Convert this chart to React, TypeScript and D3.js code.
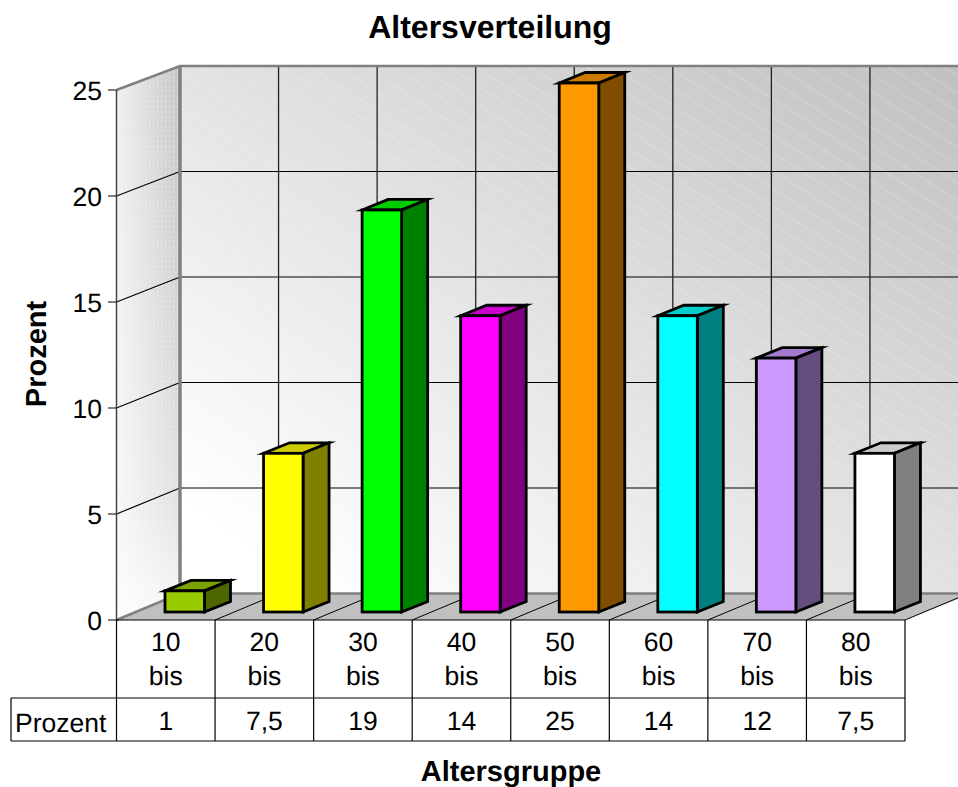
// App.tsx
import * as React from 'react';
import { scaleBand, scaleLinear, range } from 'd3';

const categories = ['10', '20', '30', '40', '50', '60', '70', '80'];
const values = [1, 7.5, 19, 14, 25, 14, 12, 7.5];
const valueLabels = ['1', '7,5', '19', '14', '25', '14', '12', '7,5'];
const yTicks = [0, 5, 10, 15, 20, 25];
const frontColors = ['#99cc00', '#ffff00', '#00ff00', '#ff00ff', '#ff9900', '#00ffff', '#cc99ff', '#ffffff'];
const sideColors = ['#4d6600', '#808000', '#008000', '#800080', '#804d00', '#008080', '#664d80', '#808080'];
const topColors = ['#7aa300', '#cccc00', '#00cc00', '#cc00cc', '#cc7a00', '#00cccc', '#a37acc', '#cccccc'];

const width = 958;
const height = 787;
const font = '"Liberation Sans", Arial, sans-serif';

// front edge of the box, back wall, and the plane the bars stand on
const xFront = scaleBand<string>().domain(categories).range([116.5, 905]);
const yFront = scaleLinear().domain([0, 25]).range([620, 90]);
const yBack = scaleLinear().domain([0, 25]).range([593.5, 66]);
const yBar = scaleLinear().domain([0, 25]).range([612, 83]);

const depthX = 63.5;
const barInset = 48.5;
const barW = 39.5;
const sideX = 26;
const sideY = 10.5;

const backLeft = xFront(categories[0])! + depthX;
const backTop = yBack(25);
const backBottom = yBack(0);
const step = xFront.step();
const backColumns = range(0, 9).map(i => backLeft + i * step);
const boundaries = range(0, 9).map(i => 116.5 + i * step);

export default function App() {
  return (
    <svg
      width={width}
      height={height}
      viewBox={`0 0 ${width} ${height}`}
      style={{ position: 'absolute', left: 0, top: 0, display: 'block', fontFamily: font, textRendering: 'geometricPrecision' }}
    >
      <defs>
        <linearGradient id="wall" gradientUnits="userSpaceOnUse" x1={180} y1={500} x2={638} y2={-156}>
          <stop offset="0" stopColor="#ffffff" />
          <stop offset="1" stopColor="#c0c0c0" />
        </linearGradient>
        <pattern id="hatch" width={60} height={15} patternUnits="userSpaceOnUse" patternTransform="rotate(33)">
          <line x1={0} y1={7} x2={60} y2={7} stroke="#ffffff" strokeOpacity={0.22} strokeWidth={1} />
        </pattern>
        <linearGradient id="sideWall" x1="0" y1="0" x2="1" y2="0">
          <stop offset="0" stopColor="#f0f0f0" />
          <stop offset="1" stopColor="#c6c6c6" />
        </linearGradient>
        <linearGradient id="sideFade" x1="0" y1="0" x2="0" y2="1">
          <stop offset="0" stopColor="#ffffff" stopOpacity={0} />
          <stop offset="0.5" stopColor="#ffffff" stopOpacity={0.3} />
          <stop offset="0.8" stopColor="#ffffff" stopOpacity={0.5} />
          <stop offset="1" stopColor="#ffffff" stopOpacity={0.88} />
        </linearGradient>
        <pattern id="dots" width={4} height={5} patternUnits="userSpaceOnUse">
          <rect x={1} y={0} width={1} height={3} fill="#ffffff" fillOpacity={0.3} />
        </pattern>
      </defs>

      {/* back wall */}
      <rect x={backLeft} y={backTop} width={width - backLeft} height={backBottom - backTop} fill="url(#wall)" />
      <rect x={backLeft} y={backTop} width={width - backLeft} height={backBottom - backTop} fill="url(#hatch)" />

      {/* left wall */}
      {['url(#sideWall)', 'url(#dots)', 'url(#sideFade)'].map(f => (
        <path key={f} d={`M116.5,${yFront(25)}L${backLeft},${backTop}V${backBottom}L116.5,${yFront(0)}Z`} fill={f} />
      ))}

      {/* floor */}
      <path
        d={`M116.5,${yFront(0)}L${backLeft},${backBottom}H${width}V${yFront(0) - 21}L905,${yFront(0)}Z`}
        fill="#c0c0c0"
      />

      {/* grid on the walls */}
      {yTicks.slice(1, -1).map(t => (
        <g key={t} stroke="#000" strokeWidth={1.2}>
          <line x1={backLeft} x2={width} y1={yBack(t)} y2={yBack(t)} />
          <line x1={116.5} x2={backLeft} y1={yFront(t)} y2={yBack(t)} />
        </g>
      ))}
      {backColumns.slice(1).map(x => (
        <line key={x} x1={x} x2={x} y1={backTop} y2={backBottom} stroke="#222" strokeWidth={1.3} />
      ))}

      {/* box edges */}
      <g stroke="#808080" fill="none">
        <path d={`M116.5,${yFront(25)}L${backLeft},${backTop}H${width}`} strokeWidth={2.5} />
        <line x1={backLeft} x2={backLeft} y1={backTop} y2={backBottom} strokeWidth={3.5} />
        <path d={`M116.5,${yFront(0)}L${backLeft},${backBottom}H${width}`} strokeWidth={2.5} />
      </g>

      {/* depth lines on the floor */}
      {boundaries.slice(1).map(x => (
        <line key={x} x1={x} y1={yFront(0)} x2={x + depthX} y2={backBottom} stroke="#000" strokeWidth={1} />
      ))}

      {/* y axis */}
      <line x1={116.5} x2={116.5} y1={yFront(25)} y2={yFront(0)} stroke="#444" strokeWidth={1.5} />
      {yTicks.map(t => (
        <g key={t}>
          <line x1={108} x2={116.5} y1={yFront(t)} y2={yFront(t)} stroke="#000" strokeWidth={1} />
          <text x={102} y={yFront(t) + 1} dy="0.35em" textAnchor="end" fontSize={26.5} fill="#000">{t}</text>
        </g>
      ))}

      {/* bars */}
      {categories.map((c, i) => {
        const x0 = xFront(c)! + barInset;
        const x1 = x0 + barW;
        const y0 = yBar(0);
        const y1 = yBar(values[i]);
        return (
          <g key={c} stroke="#000" strokeWidth={2.8} strokeLinejoin="miter" strokeMiterlimit={10}>
            <path d={`M${x0},${y1}L${x0 + sideX},${y1 - sideY}H${x1 + sideX}L${x1},${y1}Z`} fill={topColors[i]} />
            <path d={`M${x1},${y1}L${x1 + sideX},${y1 - sideY}V${y0 - sideY}L${x1},${y0}Z`} fill={sideColors[i]} />
            <rect x={x0} y={y1} width={barW} height={y0 - y1} fill={frontColors[i]} />
          </g>
        );
      })}

      {/* data table */}
      <g stroke="#000" strokeWidth={1.2}>
        <line x1={116.5} x2={905} y1={yFront(0)} y2={yFront(0)} />
        <line x1={11} x2={905} y1={698} y2={698} />
        <line x1={11} x2={905} y1={741} y2={741} />
        <line x1={11} x2={11} y1={698} y2={741} />
        {boundaries.map(x => (
          <line key={x} x1={x} x2={x} y1={yFront(0)} y2={741} />
        ))}
      </g>
      <text x={15} y={732} fontSize={26.5} fill="#000">Prozent</text>
      {categories.map((c, i) => {
        const cx = xFront(c)! + xFront.bandwidth() / 2;
        return (
          <g key={c} textAnchor="middle" fontSize={26.5} fill="#000">
            <text x={cx} y={651}>{c}</text>
            <text x={cx} y={684.5}>bis</text>
            <text x={cx} y={730}>{valueLabels[i]}</text>
          </g>
        );
      })}

      {/* titles */}
      <text x={490} y={38} textAnchor="middle" fontSize={32} fontWeight="bold" fill="#000">Altersverteilung</text>
      <text x={511} y={780.5} textAnchor="middle" fontSize={29} fontWeight="bold" fill="#000">Altersgruppe</text>
      <text
        transform="translate(46,354) rotate(-90)"
        textAnchor="middle"
        fontSize={29}
        fontWeight="bold"
        fill="#000"
      >
        Prozent
      </text>
    </svg>
  );
}
